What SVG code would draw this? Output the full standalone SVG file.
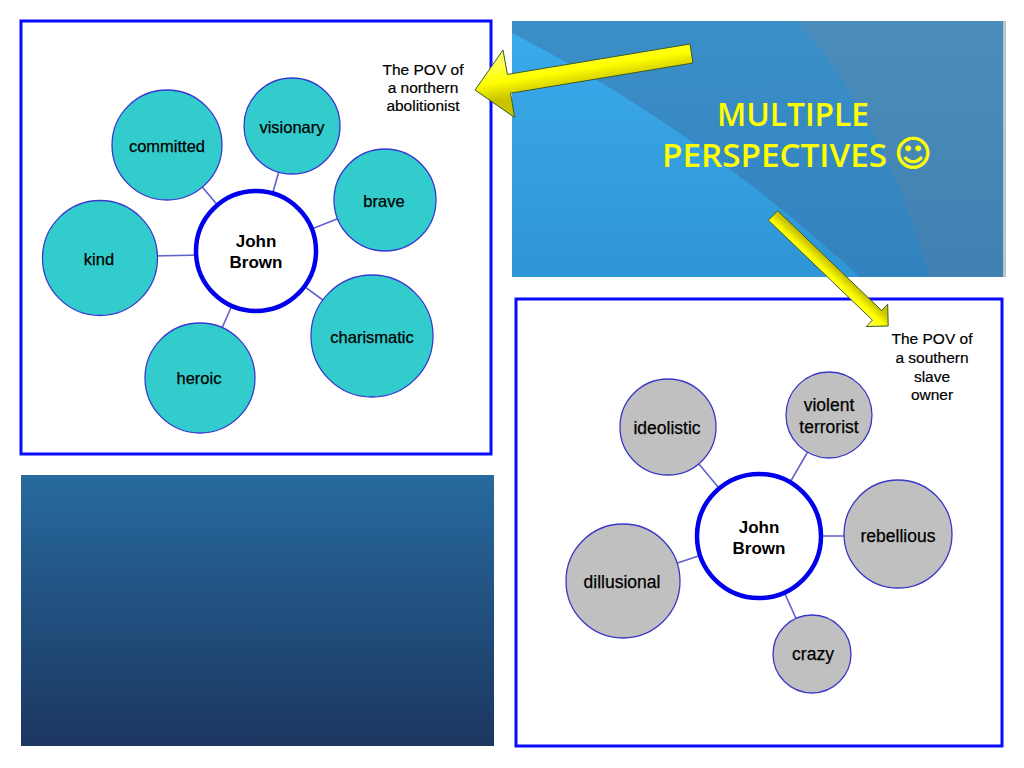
<svg xmlns="http://www.w3.org/2000/svg" width="1024" height="768" viewBox="0 0 1024 768">
<defs>
<style>
.frame{fill:#ffffff;stroke:#0a0aff;stroke-width:3}
.teal{fill:#33cccc;stroke:#3838d0;stroke-width:1.3}
.gray{fill:#c0c0c0;stroke:#3838c8;stroke-width:1.3}
.hub{fill:#ffffff;stroke:#0000ee;stroke-width:4.5}
.lbl{font-family:"Liberation Sans",Arial,sans-serif;font-size:16.5px;fill:#000;stroke:#000;stroke-width:0.25;text-anchor:middle}
.lblr{font-family:"Liberation Sans",Arial,sans-serif;font-size:17.5px;fill:#000;stroke:#000;stroke-width:0.25;text-anchor:middle}
.hubt{font-family:"Liberation Sans",Arial,sans-serif;font-weight:bold;font-size:17px;fill:#000;text-anchor:middle}
.pov{font-family:"Liberation Sans",Arial,sans-serif;font-size:15.5px;fill:#000;stroke:#000;stroke-width:0.2;text-anchor:middle}
.conn line{stroke:#6060cc;stroke-width:1.6}
.title{font-family:"Open Sans","Liberation Sans",sans-serif;font-weight:600;font-size:32px;fill:#ffff00}
.smiley{font-family:"DejaVu Sans",sans-serif;font-size:36px;fill:#ffff00;stroke:#ffff00;stroke-width:0.8;text-anchor:middle}
.arrow{stroke:#3a5a28;stroke-width:1}
</style>
<linearGradient id="light" x1="0" y1="0" x2="0" y2="1">
<stop offset="0" stop-color="#3aaaea"/>
<stop offset="1" stop-color="#2f95d5"/>
</linearGradient>
<linearGradient id="dark" x1="0" y1="0" x2="0" y2="1">
<stop offset="0" stop-color="#3b8fc8"/>
<stop offset="1" stop-color="#3282be"/>
</linearGradient>
<linearGradient id="grayr" x1="0" y1="0" x2="0" y2="1">
<stop offset="0" stop-color="#4b8dba"/>
<stop offset="1" stop-color="#4181b2"/>
</linearGradient>
<linearGradient id="navy" x1="0" y1="0" x2="0" y2="1">
<stop offset="0" stop-color="#276a9e"/>
<stop offset="1" stop-color="#1c3660"/>
</linearGradient>
<linearGradient id="ya1" gradientUnits="userSpaceOnUse" x1="600" y1="45" x2="606" y2="82">
<stop offset="0" stop-color="#ffff55"/>
<stop offset="0.55" stop-color="#ffff00"/>
<stop offset="1" stop-color="#c9c400"/>
</linearGradient>
<linearGradient id="ya2" gradientUnits="userSpaceOnUse" x1="815" y1="275" x2="828" y2="261">
<stop offset="0" stop-color="#ffff55"/>
<stop offset="0.55" stop-color="#ffff00"/>
<stop offset="1" stop-color="#c9c400"/>
</linearGradient>
</defs>
<rect width="1024" height="768" fill="#ffffff"/>

<!-- top-right title panel -->
<g id="title-panel">
<rect x="512" y="21" width="491" height="256" fill="url(#dark)"/>
<path d="M512,33 Q700,130 860,277 L512,277 Z" fill="url(#light)"/>
<path d="M797,21 Q885,120 930,277 L1003,277 L1003,21 Z" fill="url(#grayr)"/>
<rect x="1003" y="21" width="3" height="256" fill="#b9c4cf"/>
<text class="title" x="717" y="126" textLength="152" lengthAdjust="spacingAndGlyphs">MULTIPLE</text>
<text class="title" x="662" y="167" textLength="225" lengthAdjust="spacingAndGlyphs">PERSPECTIVES</text>
<text class="smiley" x="913" y="166">☺</text>
</g>

<!-- bottom-left panel -->
<rect id="blank-panel" x="21" y="475" width="473" height="271" fill="url(#navy)"/>

<!-- top-left frame -->
<g id="frame-north">
<rect class="frame" x="21" y="21" width="470" height="433"/>
</g>

<!-- bottom-right frame -->
<g id="frame-south">
<rect class="frame" x="516" y="299" width="486" height="447"/>
</g>

<!-- connectors -->
<g id="connectors" class="conn">
<line x1="167" y1="145" x2="256" y2="251"/>
<line x1="292" y1="126" x2="256" y2="251"/>
<line x1="385" y1="200" x2="256" y2="251"/>
<line x1="100" y1="257" x2="256" y2="254"/>
<line x1="372" y1="336" x2="256" y2="251"/>
<line x1="200" y1="378" x2="256" y2="251"/>
<line x1="668" y1="427" x2="759" y2="536"/>
<line x1="829" y1="415" x2="759" y2="536"/>
<line x1="898" y1="536" x2="759" y2="536"/>
<line x1="623" y1="581" x2="759" y2="536"/>
<line x1="812" y1="654" x2="759" y2="536"/>
</g>

<!-- north nodes -->
<g id="n-hub"><circle class="hub" cx="256" cy="251" r="60"/><text class="hubt" x="256" y="247">John</text><text class="hubt" x="256" y="268">Brown</text></g>
<g id="n-committed"><circle class="teal" cx="167" cy="145" r="55"/><text class="lbl" x="167" y="152">committed</text></g>
<g id="n-visionary"><circle class="teal" cx="292" cy="126" r="48"/><text class="lbl" x="292" y="133">visionary</text></g>
<g id="n-brave"><circle class="teal" cx="385" cy="200" r="51"/><text class="lbl" x="384" y="207">brave</text></g>
<g id="n-kind"><circle class="teal" cx="100" cy="258" r="57.5"/><text class="lbl" x="99" y="265">kind</text></g>
<g id="n-charismatic"><circle class="teal" cx="372" cy="336" r="61"/><text class="lbl" x="372" y="343">charismatic</text></g>
<g id="n-heroic"><circle class="teal" cx="200" cy="378" r="55"/><text class="lbl" x="199" y="384">heroic</text></g>
<g id="n-pov-north"><text class="pov" x="423" y="75">The POV of</text><text class="pov" x="423" y="93">a northern</text><text class="pov" x="423" y="111">abolitionist</text></g>

<!-- south nodes -->
<g id="s-hub"><circle class="hub" cx="759" cy="536" r="62"/><text class="hubt" x="759" y="533">John</text><text class="hubt" x="759" y="554">Brown</text></g>
<g id="s-ideolistic"><circle class="gray" cx="668" cy="427" r="48"/><text class="lblr" x="667" y="434">ideolistic</text></g>
<g id="s-violent"><circle class="gray" cx="829" cy="415" r="43"/><text class="lblr" x="829" y="411">violent</text><text class="lblr" x="829" y="433">terrorist</text></g>
<g id="s-rebellious"><circle class="gray" cx="898" cy="534" r="54"/><text class="lblr" x="898" y="542">rebellious</text></g>
<g id="s-dillusional"><circle class="gray" cx="623" cy="581" r="57"/><text class="lblr" x="622" y="588">dillusional</text></g>
<g id="s-crazy"><circle class="gray" cx="812" cy="654" r="39"/><text class="lblr" x="813" y="660">crazy</text></g>
<g id="s-pov-south"><text class="pov" x="932" y="344">The POV of</text><text class="pov" x="932" y="363">a southern</text><text class="pov" x="932" y="382">slave</text><text class="pov" x="932" y="400">owner</text></g>

<!-- yellow arrows -->
<g id="arrow-north">
<polygon class="arrow" fill="url(#ya1)" points="475,90 503,50 507.4,74.4 690,44 693,63 510.6,93.2 514.6,117.5"/>
</g>
<g id="arrow-south">
<polygon class="arrow" fill="url(#ya2)" points="777.6,210.7 881.6,310.5 887.7,304.1 888.2,326 866.3,326.5 872.4,320.1 768.4,220.3"/>
</g>
</svg>
